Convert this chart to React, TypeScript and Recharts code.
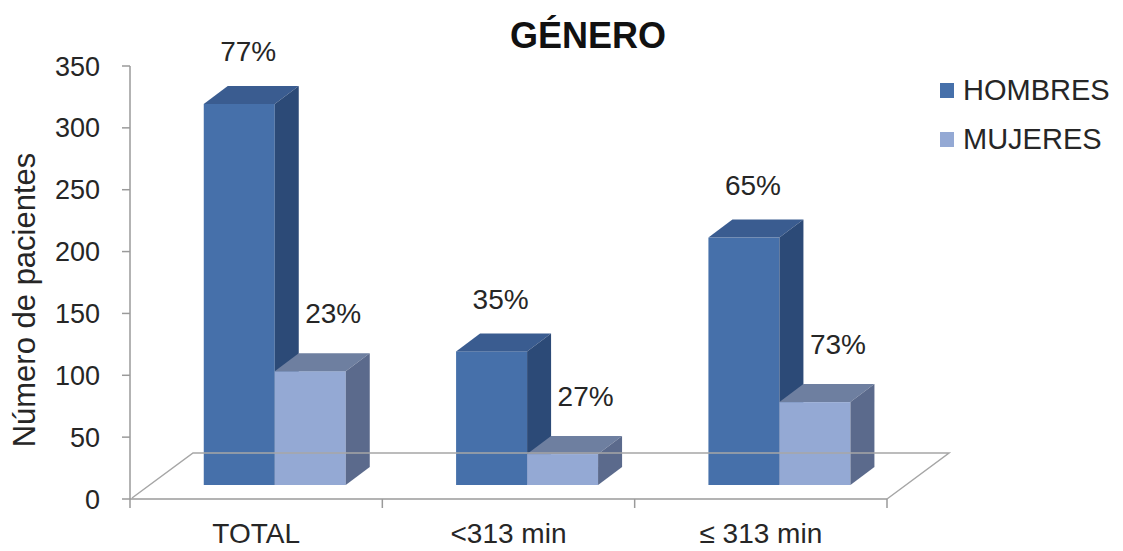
import { BarChart, Bar, XAxis, YAxis, ReferenceLine, LabelList } from "recharts";

const categories = ["TOTAL", "<313 min", "≤ 313 min"];
const hombres = [308, 108, 200];
const mujeres = [92, 25, 67];
const hombresPct = ["77%", "35%", "65%"];
const mujeresPct = ["23%", "27%", "73%"];
const yTicks = [0, 50, 100, 150, 200, 250, 300, 350];

const data = categories.map((cat, i) => ({
  cat,
  hombres: hombres[i],
  mujeres: mujeres[i],
  hPct: hombresPct[i],
  mPct: mujeresPct[i],
}));

const FONT = "'Liberation Sans', Arial, sans-serif";
const TEXT = "#262626";
const AXIS = "#9a9a9a";

// front face sits a bit inside the floor, then the depth of each box
const SX = 19, SY = 14;
const DX = 24, DY = 18;

const COLORS = {
  hombres: { front: "#4670aa", top: "#3a5c90", side: "#2c4a77" },
  mujeres: { front: "#94a9d4", top: "#6e7fa0", side: "#5b6a8c" },
};

function Bar3D(props: any) {
  const { x, y, width: w, height: h, colors } = props;
  const fx = x + SX, fy = y - SY;
  return (
    <g>
      <rect x={fx} y={fy} width={w} height={h} fill={colors.front} />
      <polygon points={`${fx},${fy} ${fx + DX},${fy - DY} ${fx + w + DX},${fy - DY} ${fx + w},${fy}`} fill={colors.top} />
      <polygon points={`${fx + w},${fy} ${fx + w + DX},${fy - DY} ${fx + w + DX},${fy + h - DY} ${fx + w},${fy + h}`} fill={colors.side} />
    </g>
  );
}

function pctLabel(p: any, dx: number, lift: number) {
  const { x, y, width, value } = p;
  return (
    <text x={x + SX + width / 2 + dx} y={y - SY - DY - lift} textAnchor="middle" dominantBaseline="central"
      fill={TEXT} fontSize={28} fontFamily={FONT}>
      {value}
    </text>
  );
}

// 3D floor drawn off the zero line, plus the category boundary ticks
function Floor(p: any) {
  const { x1, y1, x2 } = p;
  const n = categories.length;
  const step = (x2 - x1) / n;
  return (
    <g>
      <path d={`M${x1 + 2},${y1 - 1} L${x1 + 63},${y1 - 46} L${x2 + 62},${y1 - 46} L${x2},${y1}`}
        fill="none" stroke="#a6a6a6" strokeWidth={1.5} />
      {Array.from({ length: n + 1 }, (_, i) => (
        <line key={i} x1={x1 + i * step} y1={y1} x2={x1 + i * step} y2={y1 + 9} stroke={AXIS} strokeWidth={1.5} />
      ))}
    </g>
  );
}

function XTick(p: any) {
  const { x, y, payload } = p;
  return (
    <text x={x} y={y + 44} textAnchor="middle" fill={TEXT} fontSize={28} fontFamily={FONT}>
      {payload.value}
    </text>
  );
}

export default function App() {
  return (
    <div style={{ position: "absolute", left: 0, top: 0, width: 1123, height: 551, background: "#fff", fontFamily: FONT }}>
      <div style={{ position: "absolute", top: 18, left: 0, width: 1176, textAlign: "center", fontSize: 36, lineHeight: "36px", fontWeight: 700, color: "#111" }}>
        GÉNERO
      </div>
      <div style={{ position: "absolute", left: 24, top: 300, transform: "translate(-50%, -50%) rotate(-90deg)", whiteSpace: "nowrap", fontSize: 31, lineHeight: "31px", color: TEXT }}>
        Número de pacientes
      </div>
      <div style={{ position: "absolute", left: 940, top: 66, color: TEXT, fontSize: 29 }}>
        {[["HOMBRES", COLORS.hombres.front], ["MUJERES", COLORS.mujeres.front]].map(([name, c]) => (
          <div key={name} style={{ display: "flex", alignItems: "center", height: 49 }}>
            <span style={{ display: "inline-block", width: 14, height: 15, background: c, marginRight: 9 }} />
            <span>{name}</span>
          </div>
        ))}
      </div>
      <BarChart width={1123} height={551} data={data} margin={{ top: 66, right: 236, bottom: 0, left: 0 }}
        barCategoryGap="21.7%" barGap={0}>
        <ReferenceLine y={0} shape={(p: any) => <Floor {...p} />} />
        <XAxis dataKey="cat" height={52} interval={0} axisLine={{ stroke: AXIS, strokeWidth: 1.5 }}
          tickLine={false} tickSize={0} tickMargin={0} tick={<XTick />} />
        <YAxis width={130} domain={[0, 350]} ticks={yTicks} interval={0} tickSize={8} tickMargin={22}
          axisLine={{ stroke: AXIS, strokeWidth: 1.5 }} tickLine={{ stroke: AXIS, strokeWidth: 1.5 }}
          tick={{ fill: TEXT, fontSize: 27, fontFamily: FONT }} />
        <Bar dataKey="hombres" isAnimationActive={false} shape={(p: any) => <Bar3D {...p} colors={COLORS.hombres} />}>
          <LabelList dataKey="hPct" content={(p: any) => pctLabel(p, 9, 34)} />
        </Bar>
        <Bar dataKey="mujeres" isAnimationActive={false} shape={(p: any) => <Bar3D {...p} colors={COLORS.mujeres} />}>
          <LabelList dataKey="mPct" content={(p: any) => pctLabel(p, 23, 40)} />
        </Bar>
      </BarChart>
    </div>
  );
}
